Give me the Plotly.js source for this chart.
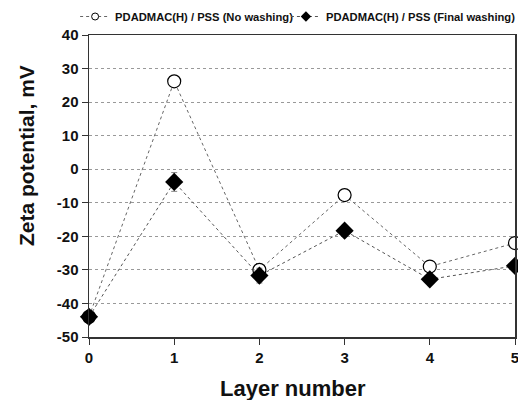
<!DOCTYPE html>
<html><head><meta charset="utf-8">
<script src="https://cdn.plot.ly/plotly-3.0.1.min.js"></script>
<style>html,body{margin:0;padding:0;background:#fff}#chart{width:518px;height:400px}</style>
</head><body><div id="chart"></div>
<script>
const layers = [0, 1, 2, 3, 4, 5];
const noWashing = [-44, 26.2, -30, -7.7, -29, -22];
const noWashingErr = [0.5, 0.8, 1.0, 0.8, 0.6, 0.6];
const finalWashing = [-44, -3.8, -31.7, -18.3, -32.8, -28.8];
const finalWashingErr = [0.5, 2.8, 2.2, 0.8, 0.6, 0.6];
const seriesNames = ["PDADMAC(H) / PSS (No washing)", "PDADMAC(H) / PSS (Final washing)"];
const yTicks = [-50, -40, -30, -20, -10, 0, 10, 20, 30, 40];
const xTitle = "Layer number";
const yTitle = "Zeta potential, mV";

const font = "Liberation Sans, Arial, sans-serif";
const lineNo = {color: "#666", width: 1, dash: "dot"};
const lineFin = {color: "#555", width: 1, dash: "dot"};
const traces = [
  {
    x: layers, y: noWashing, name: seriesNames[0], type: "scatter", mode: "lines+markers",
    showlegend: false, line: lineNo,
    marker: {symbol: "circle", size: 13, color: ["#000", "#fff", "#fff", "#fff", "#fff", "#fff"], line: {color: "#000", width: 1.2}},
    error_y: {type: "data", array: noWashingErr, visible: true, color: "#888", thickness: 1, width: 3},
    cliponaxis: false
  },
  {
    x: layers, y: finalWashing, name: seriesNames[1], type: "scatter", mode: "lines+markers",
    showlegend: false, line: lineFin,
    marker: {symbol: "diamond", size: 14, color: "#000", line: {color: "#000", width: 0}},
    error_y: {type: "data", array: finalWashingErr, visible: true, color: "#888", thickness: 1, width: 3},
    cliponaxis: false
  },
  {x: [null], y: [null], name: seriesNames[0], type: "scatter", mode: "lines+markers", legend: "legend",
   line: lineNo, marker: {symbol: "circle", size: 7, color: "#fff", line: {color: "#000", width: 1}}},
  {x: [null], y: [null], name: seriesNames[1], type: "scatter", mode: "lines+markers", legend: "legend2",
   line: lineFin, marker: {symbol: "diamond", size: 8, color: "#000", line: {width: 0}}}
];
const legendBase = {orientation: "h", xanchor: "left", xref: "container", y: 0.995, yref: "container", yanchor: "top",
  font: {family: font, size: 11.2, color: "#111", weight: "bold"},
  itemwidth: 30, bgcolor: "rgba(0,0,0,0)"};
const layout = {
  width: 518, height: 400,
  margin: {l: 89, r: 3, t: 35, b: 63, autoexpand: false},
  paper_bgcolor: "#fff", plot_bgcolor: "#fff",
  font: {family: font, color: "#111"},
  showlegend: true,
  legend: Object.assign({}, legendBase, {x: 0.145}),
  legend2: Object.assign({}, legendBase, {x: 0.552}),
  xaxis: {
    range: [0, 5], tickvals: layers, ticktext: layers.map(v => "<b>" + v + "</b>"),
    showline: true, linecolor: "#333", linewidth: 1.5, mirror: true,
    ticks: "outside", ticklen: 6, tickcolor: "#333",
    ticklabeloverflow: "allow",
    showgrid: false, zeroline: false,
    tickfont: {family: font, size: 15, weight: "bold", color: "#111"}
  },
  yaxis: {
    range: [-50, 40], tickvals: yTicks, ticktext: yTicks.map(v => "<b>" + v + "</b>"),
    showline: true, linecolor: "#333", linewidth: 1.5, mirror: true,
    ticks: "outside", ticklen: 6, tickcolor: "#333",
    showgrid: true, gridcolor: "#999", griddash: "dot", gridwidth: 1,
    zeroline: false,
    tickfont: {family: font, size: 15, weight: "bold", color: "#111"}
  },
  annotations: [
    {text: "<b>" + xTitle + "</b>", xref: "paper", yref: "paper", x: (293 - 89) / 426, y: -(388 - 337) / 302,
     xanchor: "center", yanchor: "middle", showarrow: false,
     font: {family: font, size: 22, weight: "bold", color: "#111"}},
    {text: "<b>" + yTitle + "</b>", xref: "paper", yref: "paper", x: -(89 - 26) / 426, y: (337 - 156) / 302,
     xanchor: "center", yanchor: "middle", showarrow: false, textangle: -90,
     font: {family: font, size: 21, weight: "bold", color: "#111"}}
  ]
};
Plotly.newPlot("chart", traces, layout, {displayModeBar: false, staticPlot: true});
</script></body></html>
